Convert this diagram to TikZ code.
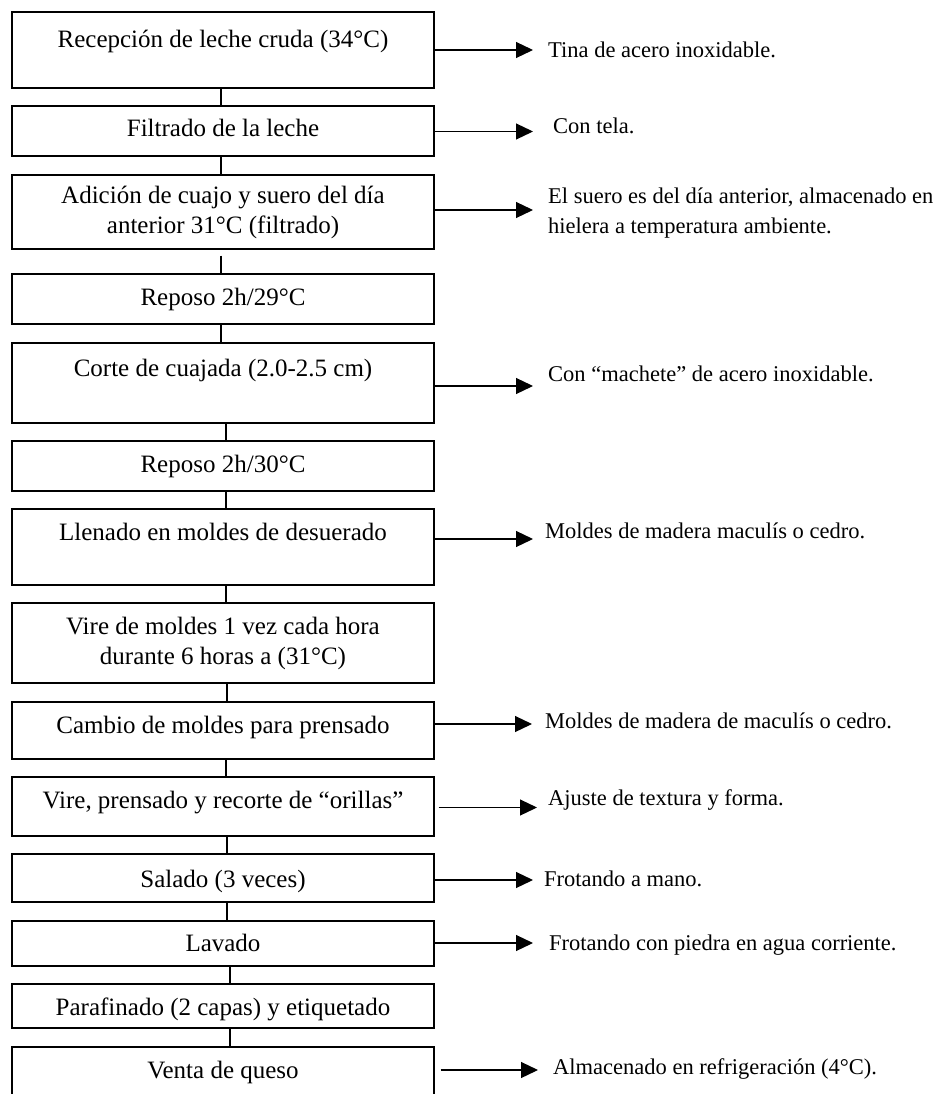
\documentclass[tikz,border=0pt]{standalone}
\usepackage{fontspec}
\setmainfont{Liberation Serif}
\usetikzlibrary{arrows.meta,positioning}
\newcommand{\boxfont}{\fontsize{25}{30}\selectfont}
\newcommand{\notefont}{\fontsize{22.5}{29.3}\selectfont}
\begin{document}
\begin{tikzpicture}[
    x=1pt, y=-1pt,
    stepbox/.style={draw, line width=1.2pt, minimum width=422pt, inner sep=0pt,
      align=center, font=\boxfont, text height=17pt, text depth=5pt},
    twoline/.style={text height={}, text depth={}},
    note/.style={anchor=base west, inner sep=0pt, align=left, font=\notefont},
    link/.style={line width=1.2pt},
    sidearrow/.style={line width=1.2pt, -{Triangle[length=17pt,width=16pt]}}
  ]
  \useasboundingbox (0,0) rectangle (948,1094);
  \clip (0,0) rectangle (948,1094);

  \node[stepbox, minimum height=76pt, text depth=21pt] (b1) at (223,50) {Recepción de leche cruda (34°C)};
  \node[stepbox, minimum height=50pt] (b2) at (223,131) {Filtrado de la leche};
  \node[stepbox, minimum height=74pt, twoline] (b3) at (223,212) {Adición de cuajo y suero del día\\anterior 31°C (filtrado)};
  \node[stepbox, minimum height=50pt] (b4) at (223,299) {Reposo 2h/29°C};
  \node[stepbox, minimum height=80pt, text depth=31pt] (b5) at (223,383) {Corte de cuajada (2.0-2.5 cm)};
  \node[stepbox, minimum height=50pt] (b6) at (223,466) {Reposo 2h/30°C};
  \node[stepbox, minimum height=76pt, text depth=31pt] (b7) at (223,547) {Llenado en moldes de desuerado};
  \node[stepbox, minimum height=80pt, twoline] (b8) at (223,643) {Vire de moldes 1 vez cada hora\\durante 6 horas a (31°C)};
  \node[stepbox, minimum height=57pt, text depth=11pt] (b9) at (223,730.5) {Cambio de moldes para prensado};
  \node[stepbox, minimum height=59pt, text depth=13pt] (b10) at (223,806.5) {Vire, prensado y recorte de “orillas”};
  \node[stepbox, minimum height=48pt, text height=23pt] (b11) at (223,878) {Salado (3 veces)};
  \node[stepbox, minimum height=45pt, text height=21pt] (b12) at (223,943.5) {Lavado};
  \node[stepbox, minimum height=44pt, text height=23pt] (b13) at (223,1006) {Parafinado (2 capas) y etiquetado};
  \node[stepbox, minimum height=76pt, text depth=31pt] (b14) at (223,1085) {Venta de queso};

  \foreach \a/\b/\dx/\gap in {1/2/-2pt/0pt, 2/3/-2pt/0pt, 3/4/-2pt/6pt, 4/5/-2pt/0pt,
      5/6/3pt/0pt, 6/7/3pt/0pt, 7/8/3pt/0pt, 8/9/4pt/0pt, 9/10/3pt/0pt,
      10/11/4pt/0pt, 11/12/4pt/0pt, 12/13/7pt/0pt, 13/14/7pt/0pt}
    \draw[link, shorten <=\gap] ([xshift=\dx]b\a.south) -- ([xshift=\dx]b\b.north);

  \node[note] (n1) at (548,58) {Tina de acero inoxidable.};
  \node[note] (n2) at (553,134) {Con tela.};
  \node[note] (n3) at (548,233.3) {El suero es del día anterior, almacenado en\\hielera a temperatura ambiente.};
  \node[note] (n5) at (548,381.5) {Con “machete” de acero inoxidable.};
  \node[note] (n7) at (545,538) {Moldes de madera maculís o cedro.};
  \node[note] (n9) at (545,728) {Moldes de madera de maculís o cedro.};
  \node[note] (n10) at (548,805.5) {Ajuste de textura y forma.};
  \node[note] (n11) at (544,886.5) {Frotando a mano.};
  \node[note] (n12) at (549,950) {Frotando con piedra en agua corriente.};
  \node[note] (n14) at (553,1074) {Almacenado en refrigeración (4°C).};

  \foreach \k/\ya/\xt/\s in {1/50/533/0pt, 2/131.5/533/0pt, 3/210/533/0pt, 5/386/533/0pt,
      7/539/533/0pt, 9/724/532/0pt, 10/807.5/537/4pt, 11/880/533/0pt,
      12/943/533/0pt, 14/1070/538/6pt}
  {
    \coordinate (a\k) at (\xt,\ya);
    \draw[sidearrow, shorten <=\s] (b\k.east |- a\k) -- (a\k);
  }
\end{tikzpicture}
\end{document}
